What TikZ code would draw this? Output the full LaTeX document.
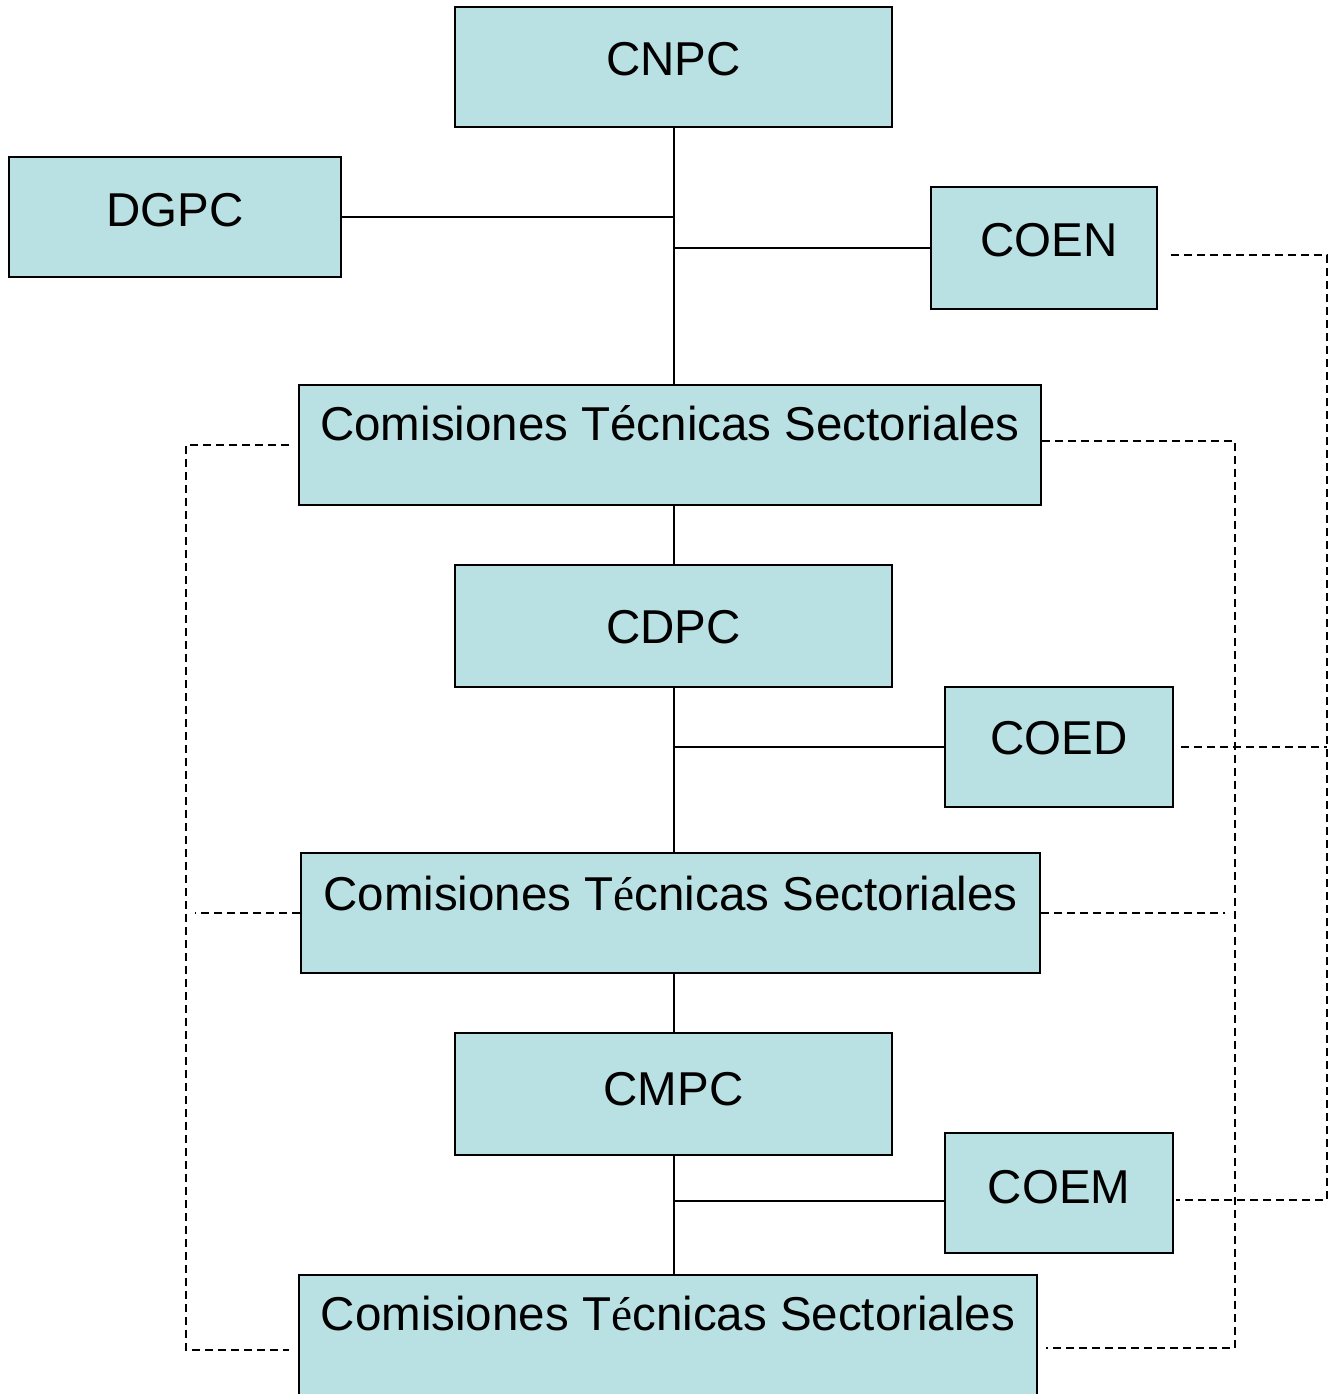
\documentclass[tikz,border=0pt]{standalone}
\usepackage{fontspec}
\setmainfont{Liberation Sans}
\newfontfamily\tms{Liberation Serif}
\definecolor{boxfill}{RGB}{185,224,227}
\tikzset{
  box/.style={draw=black, line width=2pt, fill=boxfill, inner sep=0pt,
    font=\fontsize{47.5}{57}\selectfont, text height=34pt},
  conn/.style={line width=2pt},
  dsh/.style={line width=1.6pt, dash pattern=on 8pt off 5pt},
}
\begin{document}
\begin{tikzpicture}[x=1pt,y=-1pt]
\useasboundingbox (0,0) rectangle (1333,1394);
% boxes
\node[box, minimum width=437pt, minimum height=120pt, text depth=16pt] (cnpc) at (673.5,67) {CNPC};
\node[box, minimum width=332pt, minimum height=120pt, text depth=16pt] (dgpc) at (175,217) {DGPC};
\node[box, minimum width=226pt, minimum height=122pt, text depth=18pt] (coen) at (1044,248) {\hspace*{10pt}COEN};
\node[box, minimum width=742pt, minimum height=120pt, text depth=44pt] (cts1) at (670,445) {Comisiones Técnicas Sectoriales};
\node[box, minimum width=437pt, minimum height=122pt, text depth=0pt] (cdpc) at (673.5,626) {CDPC};
\node[box, minimum width=228pt, minimum height=120pt, text depth=20pt] (coed) at (1059,747) {COED};
\node[box, minimum width=739pt, minimum height=120pt, text depth=40pt] (cts2) at (670.5,913) {Comisiones T{\tms é}cnicas Sectoriales};
\node[box, minimum width=437pt, minimum height=122pt, text depth=12pt] (cmpc) at (673.5,1094) {CMPC};
\node[box, minimum width=228pt, minimum height=120pt, text depth=14pt] (coem) at (1059,1193) {COEM};
\node[box, minimum width=738pt, minimum height=145pt, text depth=69pt] (cts3) at (668,1347.5) {Comisiones T{\tms é}cnicas Sectoriales};
% solid connectors
\draw[conn] (cnpc.south) -- (cnpc.south |- cts1.north);
\draw[conn] (dgpc.east) -- (dgpc.east -| cnpc.south);
\draw[conn] (coen.west) -- (coen.west -| cnpc.south);
\draw[conn] (cdpc.north |- cts1.south) -- (cdpc.north);
\draw[conn] (cdpc.south) -- (cdpc.south |- cts2.north);
\draw[conn] (coed.west) -- (coed.west -| cdpc.south);
\draw[conn] (cmpc.north |- cts2.south) -- (cmpc.north);
\draw[conn] (cmpc.south) -- (cmpc.south |- cts3.north);
\draw[conn] ([yshift=-8pt]coem.west) -- ([yshift=-8pt]coem.west -| cmpc.south);
% dashed connectors: inner right
\coordinate (R1) at (1235,441);
\coordinate (R3) at (1235,1348);
\draw[dsh] (cts1.east |- R1) -- (R1) -- (R3) -- ([xshift=8pt]cts3.east |- R3);
\draw[dsh] (cts2.east) -- ([xshift=-10pt]cts2.east -| R1);
% left
\coordinate (L1) at (186,445);
\coordinate (L3) at (186,1350);
\draw[dsh] ([xshift=-9pt]cts1.west) -- (L1) -- (L3) -- ([xshift=-9pt]cts3.west |- L3);
\draw[dsh] (cts2.west) -- ([xshift=9pt]cts2.west -| L1);
% outer right
\coordinate (O1) at (1327,255);
\coordinate (O3) at (1327,1200);
\draw[dsh] ([xshift=13pt]coen.east |- O1) -- (O1) -- (O3) -- ([xshift=2pt]coem.east |- O3);
\draw[dsh] ([xshift=7pt]coed.east) -- (coed.east -| O1);
\end{tikzpicture}
\end{document}
